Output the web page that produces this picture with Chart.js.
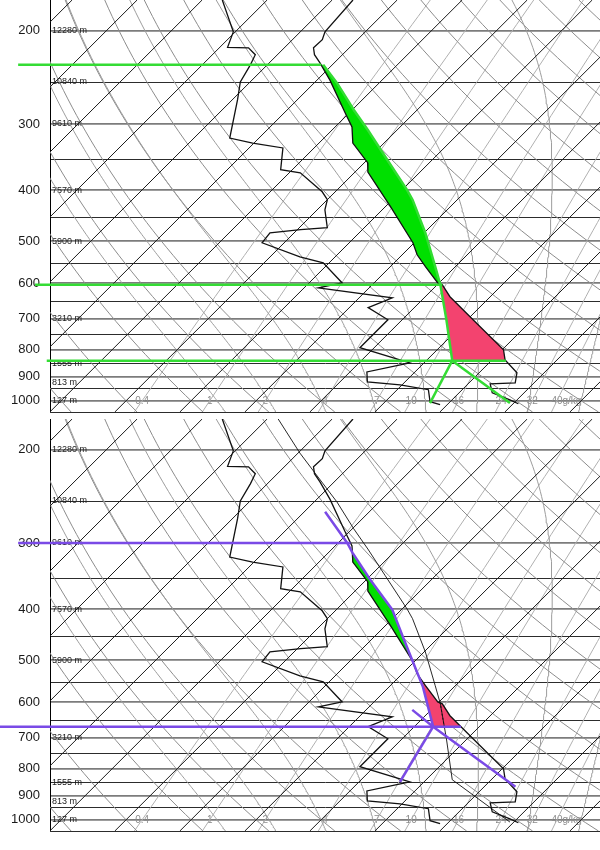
<!DOCTYPE html>
<html>
<head>
<meta charset="utf-8">
<title>Skew-T</title>
<script src="https://cdn.jsdelivr.net/npm/chart.js@4.4.1/dist/chart.umd.min.js"></script>
<style>
  html, body { margin: 0; padding: 0; background: #fff; }
  body { width: 600px; height: 850px; position: relative; overflow: hidden; }
  .panel { position: absolute; left: 0; width: 600px; height: 414px; }
  #panel1 { top: 0; }
  #panel2 { top: 419px; }
</style>
</head>
<body>
<div class="panel" id="panel1"><canvas id="skew1"></canvas></div>
<div class="panel" id="panel2"><canvas id="skew2"></canvas></div>
<script>
"use strict";

/* ── diagram frame ─────────────────────────────────────── */
const P_TOP = 175, P_BOT = 1050;
const X_MIN = -41.7, X_MAX = 42.9;   // skewed temperature (°C at 1000 hPa) at the edges
const SKEW = 35.4;                   // °C added per unit of ln(1000/p)

/* ── background grid ───────────────────────────────────── */
const pressureLines = [200, 250, 300, 350, 400, 450, 500, 550, 600, 650, 700, 750, 800, 850, 900, 950, 1000, 1050];
const pressureLabels = [200, 300, 400, 500, 600, 700, 800, 900, 1000];
const heightLevels = [200, 250, 300, 400, 500, 700, 850, 925, 1000];
const heightLabels = ["12280 m", "10840 m", "9610 m", "7570 m", "5900 m", "3210 m", "1555 m", "813 m", "127 m"];
const isotherms = [-110, -100, -90, -80, -70, -60, -50, -40, -30, -20, -10, 0, 10, 20, 30, 40];
const dryAdiabats = [-40, -30, -20, -10, 0, 10, 20, 30, 40, 50, 60, 70, 80, 90, 100, 110, 120, 130, 140, 150];
const moistAdiabats = [-16, -8, 0, 8, 16, 24, 32, 40];
const mixingRatios = [0.4, 1, 2, 4, 7, 10, 16, 24, 32, 40];
const mixingLabels = ["0.4", "1", "2", "4", "7", "10", "16", "24", "32", "40g/kg"];

/* ── sounding (hPa, °C) ────────────────────────────────── */
const tempP = [175, 201, 208, 215.5, 222, 230, 248, 286, 304, 326, 355, 370, 430, 503, 530, 558, 599, 604, 636, 703, 801, 837, 885, 925, 929, 966, 996, 1013];
const tempT = [-56.8, -56.2, -55.4, -55.5, -54.3, -52.2, -48.0, -40.6, -37.4, -34.8, -29.5, -28.0, -19.2, -10.2, -7.7, -4.6, -0.2, 0.8, 3.8, 10.9, 20.2, 22.0, 25.8, 27.1, 23.4, 25.1, 28.9, 30.8];
const dewP = [175, 201, 215, 215.5, 222, 232, 250, 270, 319, 326, 333, 366, 371, 403, 417, 436, 471, 475, 482, 503, 535, 549, 599, 612, 639, 667, 703, 794, 848, 882, 921, 933, 953, 1004, 1017];
const dewT = [-76.9, -70.3, -68.8, -65.5, -63.4, -62.6, -61.5, -59.2, -54.5, -50.2, -44.8, -41.8, -38.3, -32.0, -30.0, -28.8, -25.7, -29.5, -33.7, -33.4, -25.4, -20.9, -14.9, -17.8, -4.9, -7.1, -2.2, -2.2, 7.8, 2.6, 4.2, 9.7, 14.8, 16.9, 18.9];

/* surface parcel (top panel) */
const sbDryP = [1010, 840];
const sbDryT = [29.4, 14.0];
const sbMixP = [1010, 840];
const sbMixT = [17.1, 14.0];
const sbMoistP = [840, 703, 604, 558, 482, 417, 400, 346, 308, 282, 251, 232];
const sbMoistT = [14.0, 6.8, 0.5, -3.1, -9.8, -16.9, -19.2, -27.7, -34.5, -39.8, -46.5, -51.4];
const sbAboveP = [232, 203, 175];
const sbAboveT = [-51.4, -59.7, -68.3];
const sbLevels = [232, 604, 840];          // EL, LFC, LCL
const sbCape = [232, 604];
const sbCin = [604, 840];

/* lifted parcel (bottom panel) */
const muDryP = [866, 667, 620];
const muDryT = [24.8, 2.9, -2.9];
const muMixP = [848, 667];
const muMixT = [6.3, 2.9];
const muMoistP = [667, 561, 499, 453, 401, 352, 313, 300, 262];
const muMoistT = [2.9, -4.8, -10.6, -15.4, -21.4, -29.4, -36.3, -38.6, -46.8];
const muVirtP = [599, 667];
const muVirtT = [0.15, 4.6];
const muLevels = [300, 667];               // EL, LCL
const muCape = [313, 520];
const muCin = [540, 667];

/* ── style ─────────────────────────────────────────────── */
const C = {
  iso: "#1c1c1c",
  dry: "#8c8c8c",
  moist: "#9c9c9c",
  mix: "#b0b0b0",
  p100: "#7c7c7c",
  p50: "#2c2c2c",
  profile: "#111111",
  green: "#34dc34",
  greenFill: "#00e000",
  pink: "#f3436f",
  purple: "#7a4ae6"
};
const FONT = "'Liberation Sans', Arial, sans-serif";
const LEVEL_START_1 = [-46.6, -44.0, -42.2];   // left end of the level lines, skewed °C
const LEVEL_START_2 = [-46.6, -49.4];

/* ── helpers ───────────────────────────────────────────── */
const sk = (t, p) => t + SKEW * Math.log(1000 / p);
const pt = (t, p) => ({ x: sk(t, p), y: p });
const series = (P, T) => P.map((p, i) => pt(T[i], p));

function logSteps(n) {
  const out = [];
  for (let i = 0; i <= n; i++) out.push(P_BOT * Math.pow(P_TOP / P_BOT, i / n));
  return out;
}

function dewFromMix(w, p) {
  const e = w * p / (622 + w);
  const l = Math.log(e / 6.112);
  return 243.5 * l / (17.67 - l);
}

function moistLapse(T, p) {
  const es = 6.112 * Math.exp(17.67 * (T - 273.15) / (T - 29.65));
  const rs = 0.622 * es / (p - es);
  const Lv = 2.501e6, Rd = 287.04, cp = 1005.7;
  return (Rd * T + Lv * rs) / (cp + Lv * Lv * rs * 0.622 / (Rd * T * T)) / p;
}

function moistCurve(tw) {
  const step = (T, p, dp) => {
    const k1 = moistLapse(T, p);
    const k2 = moistLapse(T + k1 * dp, p + dp);
    return T + dp * (k1 + k2) / 2;
  };
  const down = [];
  let T = tw + 273.15, p = 1000;
  while (p < P_BOT) { T = step(T, p, 5); p += 5; down.push(pt(T - 273.15, p)); }
  const up = [pt(tw, 1000)];
  T = tw + 273.15; p = 1000;
  while (p > P_TOP) { T = step(T, p, -5); p -= 5; up.push(pt(T - 273.15, p)); }
  return down.reverse().concat(up);
}

// skewed x of a profile at pressure p (straight in x / ln p between points)
function xAt(P, T, p) {
  for (let i = 0; i < P.length - 1; i++) {
    const a = P[i], b = P[i + 1];
    if ((p - a) * (p - b) <= 0) {
      const f = a === b ? 0 : Math.log(p / a) / Math.log(b / a);
      const xa = sk(T[i], a), xb = sk(T[i + 1], b);
      return xa + f * (xb - xa);
    }
  }
  return sk(T[T.length - 1], p);
}

function areaBetween(pP, pT, eP, eT, range) {
  const [pTop, pBot] = range;
  const side = (P, T, up) => {
    const lv = [pBot, pTop].concat(P.filter(p => p > pTop && p < pBot));
    lv.sort((a, b) => up ? b - a : a - b);
    return lv.map(p => ({ x: xAt(P, T, p), y: p }));
  };
  return side(pP, pT, true).concat(side(eP, eT, false));
}

function lineSet(points, color, width, order, extra) {
  return Object.assign({
    data: points, showLine: true, borderColor: color, borderWidth: width,
    pointRadius: 0, fill: false, tension: 0, order
  }, extra || {});
}

function polySet(points, color) {
  return {
    data: points, showLine: true, borderWidth: 0, borderColor: color,
    backgroundColor: color, pointRadius: 0, fill: "shape", order: 8
  };
}

function levelSets(levels, starts, color) {
  return levels.map((p, i) => lineSet(
    [{ x: starts[i], y: p }, { x: xAt(tempP, tempT, p), y: p }],
    color, 2.5, 2, { clip: false }
  ));
}

function gridSets() {
  const sets = [];
  const lv = logSteps(50);
  mixingRatios.forEach(w => sets.push(lineSet(lv.map(p => pt(dewFromMix(w, p), p)), C.mix, 1, 30)));
  moistAdiabats.forEach(tw => sets.push(lineSet(moistCurve(tw), C.moist, 1, 29)));
  dryAdiabats.forEach(th => sets.push(lineSet(
    lv.map(p => pt((th + 273.15) * Math.pow(p / 1000, 0.2857) - 273.15, p)), C.dry, 1, 29)));
  isotherms.forEach(t => sets.push(lineSet([pt(t, P_BOT), pt(t, P_TOP)], C.iso, 1, 28)));
  return sets;
}

/* heights along the axis and mixing-ratio values along 1000 hPa */
const labelPlugin = {
  id: "skewLabels",
  beforeDatasetsDraw(chart) {
    const { ctx, chartArea, scales: { x, y } } = chart;
    ctx.save();
    ctx.textBaseline = "middle";
    ctx.textAlign = "left";
    ctx.font = "9px " + FONT;
    ctx.fillStyle = "#1a1a1a";
    heightLevels.forEach((p, i) => ctx.fillText(heightLabels[i], chartArea.left + 2, y.getPixelForValue(p)));

    ctx.font = "10px " + FONT;
    ctx.fillStyle = "#8c8c8c";
    const yb = y.getPixelForValue(1000);
    mixingRatios.forEach((w, i) => {
      const px = x.getPixelForValue(sk(dewFromMix(w, 1000), 1000));
      const txt = mixingLabels[i];
      const head = ctx.measureText(String(w)).width;
      ctx.fillText(txt, px - head / 2, yb);
    });
    ctx.restore();
  }
};

function makeChart(id, datasets) {
  return new Chart(document.getElementById(id), {
    type: "scatter",
    data: { datasets },
    options: {
      responsive: true,
      maintainAspectRatio: false,
      animation: false,
      events: [],
      layout: { padding: { top: 0, left: 0, right: 0, bottom: 2 } },
      plugins: { legend: { display: false }, tooltip: { enabled: false } },
      scales: {
        x: { type: "linear", min: X_MIN, max: X_MAX, bounds: "data", display: false },
        y: {
          type: "logarithmic",
          reverse: true,
          min: P_TOP,
          max: P_BOT,
          bounds: "data",
          afterBuildTicks(s) { s.ticks = pressureLines.map(v => ({ value: v })); },
          afterFit(s) { s.width = 50; s.paddingTop = 0; s.paddingBottom = 0; },
          ticks: {
            autoSkip: false,
            padding: 10,
            color: "#1a1a1a",
            font: { family: FONT, size: 13 },
            callback: v => pressureLabels.includes(v) ? String(v) : ""
          },
          grid: {
            drawTicks: false,
            color: c => (c.tick && c.tick.value % 100 === 0) ? C.p100 : C.p50,
            lineWidth: c => (c.tick && c.tick.value % 100 === 0) ? 1.8 : 1
          },
          border: { display: true, color: "#000", width: 1 }
        }
      }
    },
    plugins: [labelPlugin]
  });
}

function boot() {
  Chart.defaults.font.family = FONT;

  makeChart("skew1", [
    ...gridSets(),
    polySet(areaBetween(sbMoistP, sbMoistT, tempP, tempT, sbCape), C.greenFill),
    polySet(areaBetween(sbMoistP, sbMoistT, tempP, tempT, sbCin), C.pink),
    lineSet(series(tempP, tempT), C.profile, 1.3, 5),
    lineSet(series(dewP, dewT), C.profile, 1.3, 5),
    lineSet(series(sbDryP, sbDryT), C.green, 2.5, 2),
    lineSet(series(sbMixP, sbMixT), C.green, 2.5, 2),
    lineSet(series(sbMoistP, sbMoistT), C.green, 2.5, 2),
    ...levelSets(sbLevels, LEVEL_START_1, C.green)
  ]);

  makeChart("skew2", [
    ...gridSets(),
    polySet(areaBetween(muMoistP, muMoistT, tempP, tempT, muCape), C.greenFill),
    polySet(areaBetween(muMoistP, muMoistT, tempP, tempT, muCin), C.pink),
    lineSet(series(tempP, tempT), C.profile, 1.3, 5),
    lineSet(series(dewP, dewT), C.profile, 1.3, 5),
    lineSet(series(sbDryP.slice(0, 1).concat(sbMoistP, sbAboveP.slice(1)),
                   sbDryT.slice(0, 1).concat(sbMoistT, sbAboveT.slice(1))), C.profile, 0.9, 4),
    lineSet(series(muVirtP, muVirtT), C.profile, 1, 4, { borderDash: [2, 2] }),
    lineSet(series(muDryP, muDryT), C.purple, 2.5, 2),
    lineSet(series(muMixP, muMixT), C.purple, 2.5, 2),
    lineSet(series(muMoistP, muMoistT), C.purple, 2.5, 2),
    ...levelSets(muLevels, LEVEL_START_2, C.purple)
  ]);
}

document.readyState === "loading"
  ? document.addEventListener("DOMContentLoaded", boot)
  : boot();
</script>
</body>
</html>
